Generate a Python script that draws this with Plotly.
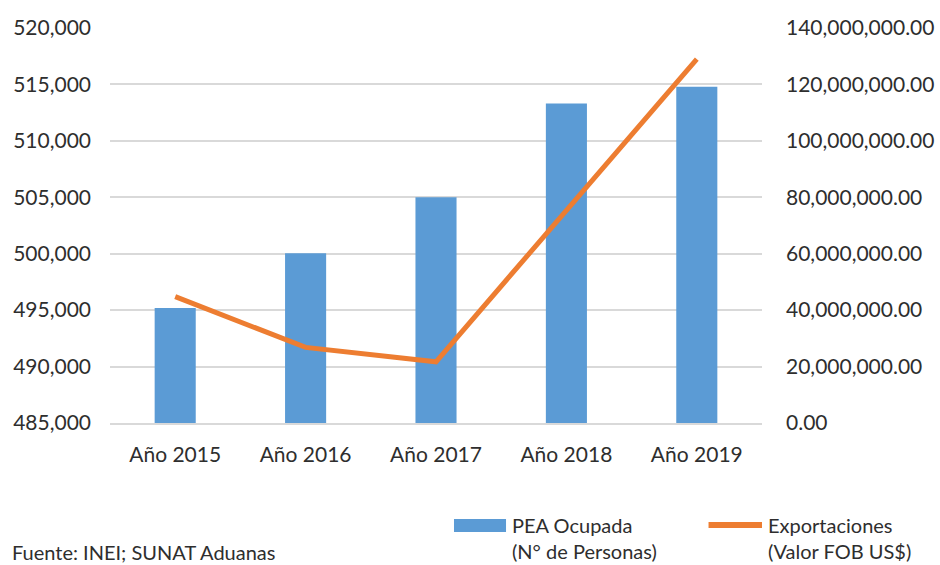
import plotly.graph_objects as go

categories = ["Año 2015", "Año 2016", "Año 2017", "Año 2018", "Año 2019"]
pea_ocupada = [495200, 500050, 505000, 513300, 514800]
exportaciones = [44800000, 26800000, 21700000, 75500000, 129000000]

left_ticks = [485000, 490000, 495000, 500000, 505000, 510000, 515000, 520000]
right_ticks = [0, 20000000, 40000000, 60000000, 80000000, 100000000, 120000000, 140000000]

legend_names = ["PEA Ocupada<br>(N° de Personas)", "Exportaciones<br>(Valor FOB US$)"]
source_text = "Fuente: INEI; SUNAT Aduanas"

BLUE = "#5B9BD5"
ORANGE = "#ED7D31"
TEXT = "#2E2E2E"
FONT = "Lato"

fig = go.Figure()
fig.add_trace(go.Bar(
    x=categories, y=pea_ocupada, marker=dict(color=BLUE, line=dict(width=0)),
    name=legend_names[0], yaxis="y",
))
fig.add_trace(go.Scatter(
    x=categories, y=exportaciones, mode="lines", line=dict(color=ORANGE, width=5),
    name=legend_names[1], yaxis="y2",
))

# manual legend (paper coordinates) so it never pushes the margins
shapes = [
    dict(type="rect", xref="paper", yref="paper", x0=0.5276, x1=0.6074,
         y0=-0.2759, y1=-0.2430, fillcolor=BLUE, line=dict(width=0)),
    dict(type="line", xref="paper", yref="paper", x0=0.918, x1=1.000,
         y0=-0.2582, y1=-0.2582, line=dict(color=ORANGE, width=6)),
]
annotations = [
    dict(text=legend_names[0], xref="paper", yref="paper", x=0.613, y=-0.2899,
         xanchor="left", yanchor="middle", align="left", showarrow=False,
         font=dict(size=20, color=TEXT)),
    dict(text=legend_names[1], xref="paper", yref="paper", x=1.006, y=-0.2899,
         xanchor="left", yanchor="middle", align="left", showarrow=False,
         font=dict(size=20, color=TEXT)),
    dict(text=source_text, xref="paper", yref="paper",
         x=-0.153, y=-0.327, xanchor="left", yanchor="middle", showarrow=False,
         font=dict(size=20, color=TEXT)),
]

fig.update_layout(
    width=940, height=565,
    margin=dict(l=110, r=178, t=28, b=142, autoexpand=False),
    paper_bgcolor="white", plot_bgcolor="white",
    font=dict(family=FONT, size=21, color=TEXT),
    showlegend=False,
    bargap=0.685,
    xaxis=dict(showgrid=False, showline=True, linecolor="#D9D9D9", linewidth=1.5,
               ticks="", ticklabelstandoff=12, automargin=False),
    yaxis=dict(range=[485000, 520000], tickvals=left_ticks,
               ticktext=[f"{v:,}" for v in left_ticks],
               showgrid=True, gridcolor="#D9D9D9", gridwidth=1.5, automargin=False,
               zeroline=False, showline=False, ticks="", ticklabelstandoff=18),
    yaxis2=dict(range=[0, 140000000], tickvals=right_ticks,
                ticktext=[f"{v:,.2f}" for v in right_ticks], automargin=False,
                overlaying="y", side="right", showgrid=False, zeroline=False,
                showline=False, ticks="", ticklabelstandoff=23),
    shapes=shapes,
    annotations=annotations,
)

fig.write_html("out.html", config={"displayModeBar": False},
               post_script="document.body.style.margin='0';")
